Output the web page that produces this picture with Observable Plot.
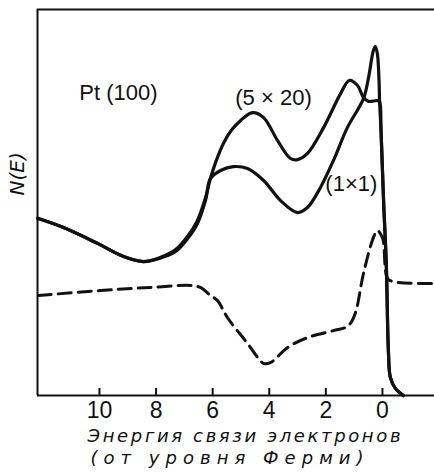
<!DOCTYPE html>
<html>
<head>
<meta charset="utf-8">
<script src="https://cdn.jsdelivr.net/npm/d3@7"></script>
<script src="https://cdn.jsdelivr.net/npm/@observablehq/plot@0.6"></script>
<style>
  html, body { margin: 0; padding: 0; background: #fff; }
</style>
</head>
<body>
<div id="chart"></div>
<script>
// Binding energy (eV, below Fermi level) and N(E) in arbitrary units
const energy5x20 = [12.19, 11.27, 10.07, 9.15, 8.45, 7.84, 7.31, 6.89, 6.54, 6.25, 6.08, 5.87, 5.62, 5.34, 5.02, 4.59, 4.20, 3.71, 3.25, 3.00, 2.65, 2.08, 1.48, 1.17, 0.88, 0.67, 0.49, 0.18, 0.10, 0.05, -0.04, -0.14, -0.21, -0.28, -0.46, -0.74];
const n5x20      = [45.9, 43.5, 39.4, 36.0, 34.7, 35.8, 37.8, 41.2, 45.3, 51.3, 56.2, 60.9, 65.3, 68.7, 71.2, 73.3, 72.0, 66.1, 61.4, 61.1, 62.7, 69.4, 78.2, 81.6, 80.3, 77.2, 76.2, 76.4, 76.0, 68.7, 50.5, 33.2, 11.7, 4.7, 1.8, 0];

const energy1x1 = [12.19, 11.27, 10.07, 9.15, 8.45, 7.84, 7.31, 6.89, 6.54, 6.25, 6.08, 5.72, 5.27, 4.77, 4.20, 3.60, 3.00, 2.65, 2.19, 1.73, 1.24, 0.67, 0.49, 0.32, 0.25, 0.18, 0.12, 0.10, 0.05, -0.04, -0.14, -0.21, -0.28, -0.46, -0.74];
const n1x1      = [45.9, 43.5, 39.4, 36.0, 34.7, 35.6, 37.3, 40.6, 44.5, 50.6, 56.2, 58.3, 59.3, 58.8, 55.7, 50.5, 47.4, 48.7, 53.9, 60.9, 69.4, 76.9, 82.4, 89.4, 90.4, 88.6, 81.6, 76.0, 68.7, 50.5, 33.2, 11.7, 4.7, 1.8, 0];

const energyDiff = [12.16, 9.96, 8.20, 6.78, 6.43, 6.08, 5.83, 5.48, 4.77, 4.38, 4.20, 3.96, 3.36, 2.65, 1.73, 1.31, 1.13, 0.95, 0.67, 0.32, 0.18, 0.00, -0.18, -0.39, -1.84];
const nDiff      = [25.9, 27.2, 28.0, 28.5, 28.0, 25.9, 24.6, 20.2, 13.5, 9.6, 8.3, 8.5, 12.4, 15.0, 16.8, 17.6, 18.7, 21.5, 31.6, 40.9, 42.7, 40.9, 30.3, 29.5, 29.0];

const xTicks = [10, 8, 6, 4, 2, 0];
const xDomain = [12.19, -1.84];
const yDomain = [0, 100];

const curveLabels = ["Pt (100)", "(5 × 20)", "(1×1)"];
const curveLabelE = [9.33, 3.85, 1.10];
const curveLabelN = [78.5, 77.2, 54.7];

const yTitle = "N(E)";
const xTitleLines = ["Энергия связи электронов", "(от уровня Ферми)"];

const toPoints = (es, ns) => es.map((e, i) => ({e, n: ns[i]}));
const s5x20 = toPoints(energy5x20, n5x20);
const s1x1 = toPoints(energy1x1, n1x1);
const sDiff = toPoints(energyDiff, nDiff);
const labels = curveLabels.map((t, i) => ({t, e: curveLabelE[i], n: curveLabelN[i]}));

const ink = "#111";
const font = "'Liberation Sans', Arial, sans-serif";
const italicFont = "'DejaVu Sans', sans-serif";

const chart = Plot.plot({
  width: 434,
  height: 474,
  marginLeft: 37,
  marginRight: 0,
  marginTop: 9,
  marginBottom: 79,
  style: {background: "#fff", color: ink, fontFamily: font},
  x: {domain: xDomain, axis: null},
  y: {domain: yDomain, axis: null},
  marks: [
    // frame: left, top, bottom
    Plot.ruleX([xDomain[0]], {stroke: ink, strokeWidth: 2}),
    Plot.ruleY([yDomain[1]], {stroke: ink, strokeWidth: 2}),
    Plot.ruleY([yDomain[0]], {stroke: ink, strokeWidth: 2}),
    // inward ticks
    Plot.ruleX(xTicks, {x: d => d, y1: yDomain[0], y2: yDomain[0], insetTop: -7, stroke: ink, strokeWidth: 2}),
    Plot.axisX(xTicks, {anchor: "bottom", tickSize: 0, tickPadding: 6, fontSize: 23, fontFamily: font, fill: ink, label: null}),
    // curves
    Plot.line(sDiff, {x: "e", y: "n", curve: "catmull-rom", stroke: ink, strokeWidth: 3, strokeDasharray: "13,7"}),
    Plot.line(s1x1, {x: "e", y: "n", curve: "catmull-rom", stroke: ink, strokeWidth: 3.2}),
    Plot.line(s5x20, {x: "e", y: "n", curve: "catmull-rom", stroke: ink, strokeWidth: 3.2}),
    // labels
    Plot.text(labels, {x: "e", y: "n", text: "t", fontSize: 22, fontFamily: font, fill: ink}),
    Plot.text([yTitle], {frameAnchor: "left", rotate: -90, dx: -20, dy: -7, fontSize: 20, fontStyle: "italic", fontFamily: italicFont, fill: ink}),
    Plot.text([xTitleLines.join("\n")], {frameAnchor: "bottom", lineAnchor: "bottom", dy: 68, lineHeight: 1.17, fontSize: 18, fontStyle: "italic", fontFamily: italicFont, fill: ink})
  ]
});

// widen the two title lines to the reference's letter spacing and offsets
const titleWidths = [313, 273];
const titleShift = [8, -9];
d3.select(chart).selectAll("tspan").each(function () {
  const k = xTitleLines.indexOf(this.textContent);
  if (k >= 0) d3.select(this).attr("x", titleShift[k]).attr("textLength", titleWidths[k]).attr("lengthAdjust", "spacing");
});
document.getElementById("chart").appendChild(chart);
</script>
</body>
</html>
